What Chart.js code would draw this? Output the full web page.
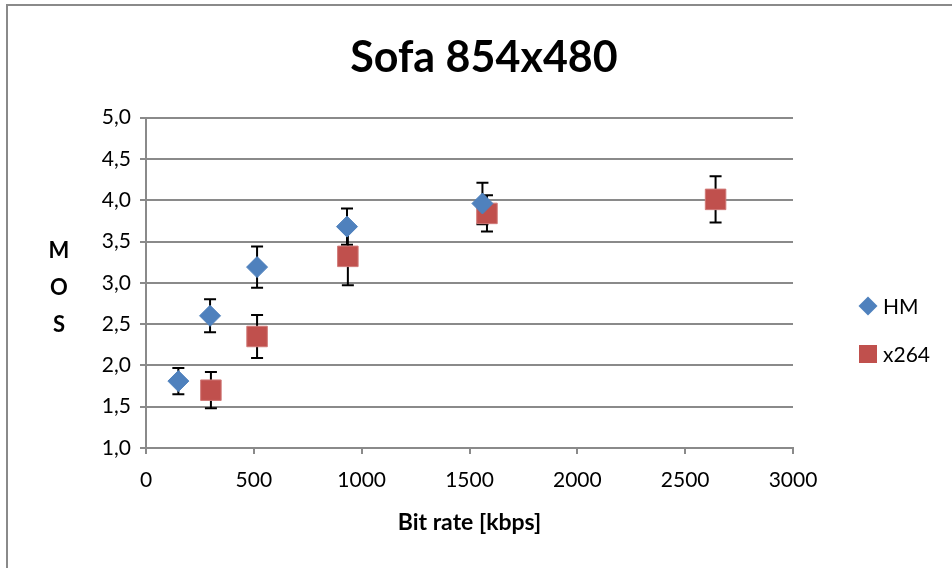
<!DOCTYPE html>
<html>
<head>
<meta charset="utf-8">
<script src="https://cdn.jsdelivr.net/npm/chart.js@4"></script>
<style>
  html, body { margin: 0; padding: 0; background: #fff; }
  #wrap { width: 952px; height: 568px; }
</style>
</head>
<body>
<div id="wrap"><canvas id="mos" width="952" height="568"></canvas></div>
<script>
// values
const seriesNames = ['HM', 'x264']
const hmRate = [150, 297, 515, 932, 1560]
const hmMos = [1.81, 2.60, 3.19, 3.68, 3.96]
const hmErr = [0.16, 0.20, 0.25, 0.22, 0.25]
const x264Rate = [301, 515, 936, 1581, 2641]
const x264Mos = [1.70, 2.35, 3.32, 3.84, 4.01]
const x264Err = [0.22, 0.26, 0.35, 0.22, 0.28]

const FONT = 'Lato, "Open Sans", sans-serif'
const GRID = '#8a8a8a'

const toPoints = (xs, ys) => xs.map((x, i) => ({ x: x, y: ys[i] }))

// error bars, drawn under the markers
const errorBars = {
  id: 'errorBars',
  beforeDatasetsDraw(chart) {
    const { ctx, scales } = chart
    ctx.save()
    ctx.strokeStyle = '#000'
    ctx.lineWidth = 2
    chart.data.datasets.forEach(ds => {
      ds.data.forEach((p, i) => {
        const px = scales.x.getPixelForValue(p.x)
        const top = scales.y.getPixelForValue(p.y + ds.err[i])
        const bot = scales.y.getPixelForValue(p.y - ds.err[i])
        ctx.beginPath()
        ctx.moveTo(px, top); ctx.lineTo(px, bot)
        ctx.moveTo(px - 6, top); ctx.lineTo(px + 6, top)
        ctx.moveTo(px - 6, bot); ctx.lineTo(px + 6, bot)
        ctx.stroke()
      })
    })
    ctx.restore()
  }
}

// frame, stacked "M O S" title and the legend on the right
const extras = {
  id: 'extras',
  afterDraw(chart) {
    const ctx = chart.ctx
    ctx.save()
    ctx.strokeStyle = GRID
    ctx.lineWidth = 2
    ctx.beginPath()
    ctx.moveTo(7, 568); ctx.lineTo(7, 5); ctx.lineTo(952, 5)
    ctx.stroke()

    ctx.fillStyle = '#000'
    ctx.font = 'bold 22px ' + FONT
    ctx.textAlign = 'center'
    ctx.textBaseline = 'middle'
    ;['M', 'O', 'S'].forEach((ch, i) => ctx.fillText(ch, 59, 251 + i * 37))

    ctx.font = '21px ' + FONT
    ctx.textAlign = 'left'
    chart.data.datasets.forEach((ds, i) => {
      const cy = 306 + i * 48
      ctx.fillStyle = ds.backgroundColor
      ctx.beginPath()
      if (ds.pointStyle === 'rectRot') {
        ctx.moveTo(868, cy - 9.5); ctx.lineTo(877.5, cy); ctx.lineTo(868, cy + 9.5); ctx.lineTo(858.5, cy)
        ctx.closePath()
      } else {
        ctx.rect(859, cy - 9, 18, 18)
      }
      ctx.fill()
      ctx.fillStyle = '#000'
      ctx.fillText(ds.label, 883, cy + 1)
    })
    ctx.restore()
  }
}

const ctx = document.getElementById('mos').getContext('2d')

const chart = new Chart(ctx, {
  type: 'scatter',
  data: {
    datasets: [{
      label: seriesNames[0],
      data: toPoints(hmRate, hmMos),
      err: hmErr,
      pointStyle: 'rectRot',
      pointRadius: 10.5,
      backgroundColor: '#4F81BD',
      borderColor: '#4F81BD',
      borderWidth: 1
    },
    {
      label: seriesNames[1],
      data: toPoints(x264Rate, x264Mos),
      err: x264Err,
      pointStyle: 'rect',
      pointRadius: 14.5,
      backgroundColor: '#C0504D',
      borderColor: '#D07a78',
      borderWidth: 1
    }]
  },
  options: {
    responsive: false,
    animation: false,
    layout: { padding: { left: 16, right: 0, top: 0, bottom: 28 } },
    plugins: {
      legend: { display: false },
      tooltip: { enabled: false },
      title: {
        display: true,
        text: 'Sofa 854x480',
        color: '#000',
        font: { family: FONT, size: 43, weight: 'bold', lineHeight: 1.2 },
        padding: { top: 32, bottom: 34 }
      }
    },
    scales: {
      x: {
        type: 'linear',
        min: 0,
        max: 3000,
        ticks: {
          stepSize: 500,
          color: '#000',
          padding: 14,
          font: { family: FONT, size: 21 },
          callback: v => String(v)
        },
        grid: { drawOnChartArea: false, drawTicks: true, tickLength: 6, color: GRID, lineWidth: 2 },
        border: { color: GRID, width: 2 },
        title: {
          display: true,
          text: 'Bit rate [kbps]',
          color: '#000',
          font: { family: FONT, size: 23, weight: 'bold', lineHeight: 1.2 },
          padding: { top: 0, bottom: 4 }
        },
        afterFit: s => { s.height = 92 }
      },
      y: {
        min: 1,
        max: 5,
        ticks: {
          stepSize: 0.5,
          color: '#000',
          padding: 9,
          font: { family: FONT, size: 21 },
          callback: v => v.toFixed(1).replace('.', ',')
        },
        grid: { color: GRID, lineWidth: 2, tickLength: 6 },
        border: { color: GRID, width: 2 },
        afterFit: s => { s.width = 130 }
      },
      // empty axis on the right that keeps room for the legend
      side: {
        type: 'linear',
        position: 'right',
        display: true,
        ticks: { display: false },
        grid: { display: false },
        border: { display: false },
        afterFit: s => { s.width = 159 }
      }
    }
  },
  plugins: [errorBars, extras]
});
</script>
</body>
</html>
